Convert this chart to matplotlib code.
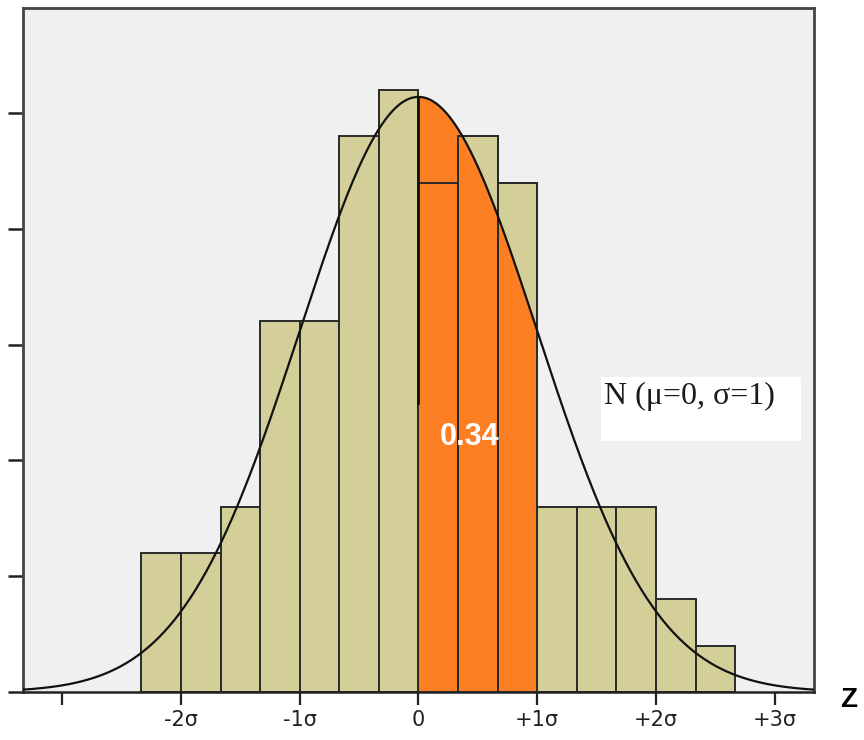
import numpy as np
import matplotlib.pyplot as plt
from matplotlib.patches import Rectangle

# histogram data (bins of width 1/3 sigma)
bin_edges = np.arange(-7, 9) / 3.0
counts = [6, 6, 8, 16, 16, 24, 26, 22, 24, 22, 8, 8, 8, 4, 2]
curve_peak = 25.7

tick_pos = [-3, -2, -1, 0, 1, 2, 3]
tick_labels = ["", "-2σ", "-1σ", "0", "+1σ", "+2σ", "+3σ"]
yticks = [0, 5, 10, 15, 20, 25]

tan = "#D4CF99"
orange = "#FC7F23"
edge = "#2a2a2a"

fig = plt.figure(figsize=(8.64, 7.4), dpi=100)
ax = fig.add_axes([0.0266, 0.0649, 0.9155, 0.924])
ax.set_facecolor("#F0F0F0")

widths = np.diff(bin_edges)
ax.bar(bin_edges[:-1], counts, width=widths, align="edge",
       color=tan, edgecolor=edge, linewidth=1.4, zorder=1)

# normal curve
xs = np.linspace(-3.34, 3.34, 600)
ys = curve_peak * np.exp(-0.5 * xs ** 2)

# shaded area 0..1 sigma
xf = np.linspace(0, 1, 200)
yf = curve_peak * np.exp(-0.5 * xf ** 2)
ax.fill_between(xf, 0, yf, color=orange, linewidth=0, zorder=2)

# bar outlines over the shaded area
sel = (bin_edges[:-1] >= 0) & (bin_edges[:-1] < 1)
ax.bar(bin_edges[:-1][sel], np.array(counts)[sel], width=widths[sel], align="edge",
       facecolor="none", edgecolor=edge, linewidth=1.4, zorder=3)
ax.plot([0, 0], [12.5, curve_peak], color="#111111", lw=2, zorder=4)

ax.plot(xs, ys, color="#111111", lw=1.6, zorder=5)

ax.text(0.43, 11.0, "0.34", color="white", fontsize=22, fontweight="bold",
        family="Liberation Sans", ha="center", va="center", zorder=6)

# legend-like label
ax.add_patch(Rectangle((0.731, 0.367), 0.253, 0.0936, transform=ax.transAxes,
                       facecolor="white", edgecolor="none", zorder=6))
ax.text(0.734, 0.432, "N (μ=0, σ=1)", transform=ax.transAxes, family="Liberation Serif",
        fontsize=23, color="#1a1a1a", ha="left", va="center", zorder=7)

ax.set_xlim(-3.33, 3.33)
ax.set_ylim(0, 29.53)
ax.set_xticks(tick_pos)
ax.set_xticklabels(tick_labels, fontsize=15, color="#222222")
ax.set_yticks(yticks)
ax.set_yticklabels([])
ax.tick_params(axis="x", length=9, width=1.6, color="#222222", pad=4)
ax.tick_params(axis="y", length=11, width=1.8, color="#222222")

for side in ["left", "top", "right"]:
    ax.spines[side].set_color("#444444")
    ax.spines[side].set_linewidth(2)
ax.spines["bottom"].set_color("#222222")
ax.spines["bottom"].set_linewidth(1.8)

fig.text(0.982, 0.054, "Z", fontsize=20, fontweight="bold", ha="center", va="center",
         family="Liberation Sans")

fig.savefig("out.png", dpi=100)
